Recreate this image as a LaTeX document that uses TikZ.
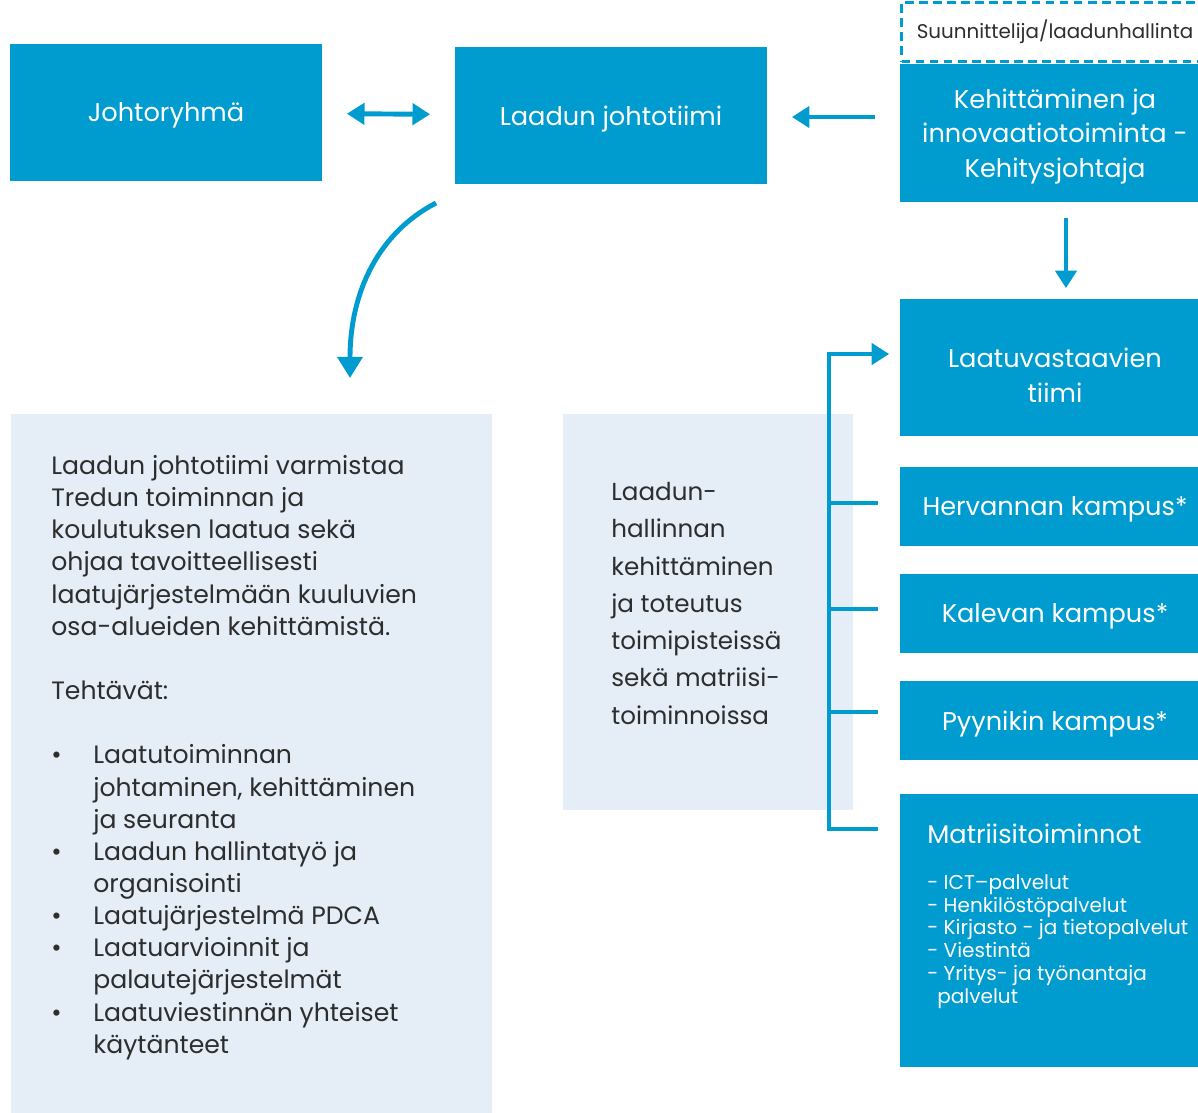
\documentclass[tikz,border=0pt]{standalone}
\usepackage{fontspec}
\setmainfont{Poppins}
\usepackage{tikz}
\usetikzlibrary{calc,arrows.meta}

\definecolor{tredublue}{RGB}{0,155,207}
\definecolor{panelgray}{RGB}{229,237,246}
\definecolor{darktext}{RGB}{45,45,45}

\begin{document}
\begin{tikzpicture}[x=0.02cm,y=-0.02cm,
    bluebox/.style={fill=tredublue,text=white,inner sep=0pt,align=center,text depth=0pt,
      minimum width=6.2cm,font=\fontsize{14.6}{19.7}\selectfont},
    panel/.style={fill=panelgray,inner sep=0pt},
    arr/.style={draw=tredublue,line width=2.8pt,-{Triangle[width=12pt,length=10pt]}},
    brline/.style={draw=tredublue,line width=2.6pt}]
  \useasboundingbox (0,0) rectangle (1198,1113);

  % top row
  \node[bluebox,minimum width=6.24cm,minimum height=2.74cm] (jr) at (166,112.5) {Johtoryhmä};
  \node[bluebox,minimum width=6.24cm,minimum height=2.74cm] (ljt) at (611,115.5) {Laadun johtotiimi};
  \node[draw=tredublue,dashed,line width=1.6pt,dash pattern=on 5pt off 3pt,
        minimum width=6.14cm,minimum height=1.18cm,inner sep=0pt,text=darktext,
        font=\fontsize{11.3}{13}\selectfont] (suun) at (1055,32) {Suunnittelija/laadunhallinta};
  \node[bluebox,minimum height=2.76cm] (keh) at (1055,133)
    {Kehittäminen ja\\innovaatiotoiminta -\\Kehitysjohtaja};

  % right column
  \node[bluebox,minimum height=2.74cm] (lvt) at (1055,367.5) {};
  \node[inner sep=0pt,text=white,align=center,font=\fontsize{14.6}{19.7}\selectfont]
    (lvtt) at ([yshift=-0.15cm]lvt.center) {Laatuvastaavien\\tiimi};
  \node[bluebox,minimum height=1.58cm] (herv) at (1055,506.5) {Hervannan kampus*};
  \node[bluebox,minimum height=1.58cm] (kal) at (1055,613.5) {Kalevan kampus*};
  \node[bluebox,minimum height=1.58cm] (pyy) at (1055,720.5) {Pyynikin kampus*};
  \node[bluebox,minimum height=5.46cm] (matr) at (1055,930.5) {};
  \node[anchor=north west,inner sep=0pt,text=white,align=left,
        font=\fontsize{14.6}{19.5}\selectfont] (matrt) at (927,824) {Matriisitoiminnot};
  \node[anchor=north west,inner sep=0pt,text=white,align=left,
        font=\fontsize{11.4}{13}\selectfont] (matrl) at (927,874)
    {- ICT–palvelut\\- Henkilöstöpalvelut\\- Kirjasto - ja tietopalvelut\\- Viestintä\\- Yritys- ja työnantaja\\\hspace*{0.2cm}palvelut};

  % panels
  \node[panel,minimum width=9.62cm,minimum height=13.98cm] (lp) at (251.5,763.5) {};
  \node[panel,minimum width=5.8cm,minimum height=7.92cm] (mp) at (708,612) {};

  \node[anchor=north west,inner sep=0pt,text=darktext,align=left,
        font=\fontsize{14.3}{18.3}\selectfont] (lpt) at (51,455)
    {Laadun johtotiimi varmistaa\\
     Tredun toiminnan ja\\
     koulutuksen laatua sekä\\
     ohjaa tavoitteellisesti\\
     laatujärjestelmään kuuluvien\\
     osa-alueiden kehittämistä.\\[18.3pt]
     Tehtävät:\\[18.3pt]
     \makebox[0.84cm][l]{\textbullet}Laatutoiminnan\\
     \hspace*{0.84cm}johtaminen, kehittäminen\\
     \hspace*{0.84cm}ja seuranta\\
     \makebox[0.84cm][l]{\textbullet}Laadun hallintatyö ja\\
     \hspace*{0.84cm}organisointi\\
     \makebox[0.84cm][l]{\textbullet}Laatujärjestelmä PDCA\\
     \makebox[0.84cm][l]{\textbullet}Laatuarvioinnit ja\\
     \hspace*{0.84cm}palautejärjestelmät\\
     \makebox[0.84cm][l]{\textbullet}Laatuviestinnän yhteiset\\
     \hspace*{0.84cm}käytänteet};

  \node[anchor=north west,inner sep=0pt,text=darktext,align=left,
        font=\fontsize{14}{21.2}\selectfont] (mpt) at (611,482)
    {Laadun-\\hallinnan\\kehittäminen\\ja toteutus\\toimipisteissä\\sekä matriisi-\\toiminnoissa};

  % arrows
  \draw[arr,{Triangle[width=12pt,length=10pt]}-{Triangle[width=12pt,length=10pt]},
        shorten <=14pt,shorten >=14pt] (jr) -- (ljt);
  \draw[arr,shorten <=14pt,shorten >=14pt] (keh.west |- 0,117) -- (ljt.east |- 0,117);
  \draw[arr,shorten <=9pt,shorten >=6pt] ([xshift=0.22cm]keh.south) -- ([xshift=0.22cm]lvt.north);

  \coordinate (cstart) at (436,203);
  \coordinate (cend) at (350,378);
  \draw[arr,-{Triangle[width=14pt,length=12pt]}] (cstart) .. controls (380,232) and (350,290) .. (cend);

  % bracket
  \coordinate (brtop) at (829,354);
  \coordinate (brbot) at (829,829);
  \draw[brline] ($(brtop)+(0,-2)$) -- ($(brbot)+(0,2)$);
  \draw[arr,line width=2.6pt,shorten >=6pt] ($(brtop)+(-2,0)$) -- (brtop -| lvt.west);
  \foreach \b/\yy in {herv/503,kal/609,pyy/712}
    \draw[brline,shorten >=12.5pt] (829,\yy) -- (\b.west |- 0,\yy);
  \draw[brline,shorten >=12.5pt] ($(brbot)+(-2,0)$) -- (brbot -| matr.west);
\end{tikzpicture}
\end{document}
